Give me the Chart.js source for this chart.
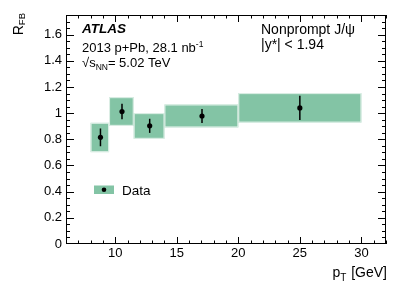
<!DOCTYPE html>
<html>
<head>
<meta charset="utf-8">
<script src="https://cdn.jsdelivr.net/npm/chart.js@4.4.0/dist/chart.umd.min.js"></script>
<style>
  html, body { margin: 0; padding: 0; background: #fff; }
  #rfb { display: block; }
</style>
</head>
<body>
<canvas id="rfb" width="407" height="292"></canvas>
<script>
(function(){
  'use strict';

  // pT bins (GeV) and R_FB values
  const binLow  = [8, 9.5, 11.5, 14, 20];
  const binHigh = [9.5, 11.5, 14, 20, 30];
  const ptCenter = [8.8, 10.55, 12.8, 17.05, 25];
  const rfb      = [0.815, 1.012, 0.903, 0.978, 1.04];
  const statErr  = [0.068, 0.059, 0.054, 0.053, 0.092];
  const systLow  = [0.702, 0.903, 0.804, 0.891, 0.928];
  const systHigh = [0.926, 1.122, 1.000, 1.066, 1.153];

  const xTicks = [10, 15, 20, 25, 30];
  const yTicks = [0, 0.2, 0.4, 0.6, 0.8, 1, 1.2, 1.4, 1.6];

  const FONT = '"Liberation Sans", Arial, Helvetica, sans-serif';
  const BOX = 'rgb(131,196,165)';

  // draws a run of text pieces (for sub/superscripts)
  function drawRuns(ctx, x, y, runs){
    let cx = x;
    runs.forEach(function(r){
      ctx.font = (r.style || '') + ' ' + r.size + 'px ' + FONT;
      ctx.fillText(r.t, cx, y + (r.dy || 0));
      cx += ctx.measureText(r.t).width + (r.gap || 0);
    });
    return cx;
  }
  function runsWidth(ctx, runs){
    let w = 0;
    runs.forEach(function(r){
      ctx.font = (r.style || '') + ' ' + r.size + 'px ' + FONT;
      w += ctx.measureText(r.t).width + (r.gap || 0);
    });
    return w;
  }

  // systematic boxes + stat error bars
  const boxPlugin = {
    id: 'systBoxes',
    beforeDatasetsDraw(chart){
      const ctx = chart.ctx, xs = chart.scales.x, ys = chart.scales.y;
      ctx.save();
      for (let i = 0; i < binLow.length; i++) {
        const x0 = xs.getPixelForValue(binLow[i]), x1 = xs.getPixelForValue(binHigh[i]);
        const y0 = ys.getPixelForValue(systHigh[i]), y1 = ys.getPixelForValue(systLow[i]);
        ctx.fillStyle = BOX;
        ctx.fillRect(x0, y0, x1 - x0, y1 - y0);
        ctx.strokeStyle = 'rgba(255,255,255,0.75)';
        ctx.lineWidth = 1;
        ctx.strokeRect(x0 + 0.5, y0 + 0.5, x1 - x0 - 1, y1 - y0 - 1);
      }
      ctx.strokeStyle = '#000';
      ctx.lineWidth = 1.5;
      for (let i = 0; i < ptCenter.length; i++) {
        const px = xs.getPixelForValue(ptCenter[i]);
        ctx.beginPath();
        ctx.moveTo(px, ys.getPixelForValue(rfb[i] - statErr[i]));
        ctx.lineTo(px, ys.getPixelForValue(rfb[i] + statErr[i]));
        ctx.stroke();
      }
      ctx.restore();
    }
  };

  // ROOT style frame with inward ticks, labels and legend
  const framePlugin = {
    id: 'frame',
    afterDraw(chart){
      const ctx = chart.ctx, a = chart.chartArea;
      const xs = chart.scales.x, ys = chart.scales.y;
      ctx.save();
      ctx.strokeStyle = '#000';
      ctx.lineWidth = 1;
      ctx.strokeRect(a.left + 0.5, a.top + 0.5, a.right - a.left - 1, a.bottom - a.top - 1);

      ctx.beginPath();
      for (let v = 7; v <= 32; v += 1) {
        const px = Math.round(xs.getPixelForValue(v)) + 0.5;
        const len = (v % 5 === 0) ? 7 : 3.5;
        ctx.moveTo(px, a.bottom); ctx.lineTo(px, a.bottom - len);
        ctx.moveTo(px, a.top); ctx.lineTo(px, a.top + len);
      }
      for (let k = 1; k <= 35; k++) {
        const v = k * 0.05;
        const py = Math.round(ys.getPixelForValue(v)) + 0.5;
        const len = (k % 4 === 0) ? 8 : 4;
        ctx.moveTo(a.left, py); ctx.lineTo(a.left + len, py);
        ctx.moveTo(a.right, py); ctx.lineTo(a.right - len, py);
      }
      ctx.stroke();

      ctx.fillStyle = '#000';
      ctx.textBaseline = 'alphabetic';
      ctx.textAlign = 'left';

      // x title
      const xt = [{t: 'p', size: 14}, {t: 'T', size: 10, dy: 4, gap: 1}, {t: ' [GeV]', size: 14}];
      drawRuns(ctx, a.right + 1 - runsWidth(ctx, xt), 277, xt);

      // y title (rotated)
      ctx.save();
      ctx.translate(23, 13);
      ctx.rotate(-Math.PI / 2);
      const yt = [{t: 'R', size: 14}, {t: 'FB', size: 9.5, dy: 2}];
      drawRuns(ctx, -runsWidth(ctx, yt), 0, yt);
      ctx.restore();

      // labels
      drawRuns(ctx, 82, 33, [{t: 'ATLAS', size: 13.5, style: 'italic bold'}]);
      drawRuns(ctx, 82, 52, [{t: '2013 p+Pb, 28.1 nb', size: 13}, {t: '-1', size: 8.5, dy: -5}]);
      drawRuns(ctx, 82, 67, [{t: '\u221A', size: 13}, {t: 's', size: 13}, {t: 'NN', size: 8.5, dy: 3}, {t: '= 5.02 TeV', size: 13}]);
      drawRuns(ctx, 261, 34, [{t: 'Nonprompt J/\u03C8', size: 14}]);
      drawRuns(ctx, 261, 49, [{t: '|y*| < 1.94', size: 14}]);

      // legend
      ctx.fillStyle = BOX;
      ctx.fillRect(94, 185.5, 20, 8.5);
      ctx.fillStyle = '#000';
      ctx.beginPath();
      ctx.arc(104, 189.7, 2.3, 0, Math.PI * 2);
      ctx.fill();
      drawRuns(ctx, 122, 194.5, [{t: 'Data', size: 13.5}]);
      ctx.restore();
    }
  };

  function initChart(){
    try {
      if (typeof Chart === 'undefined') { console.warn('Chart.js not loaded'); return; }
      const el = document.getElementById('rfb');
      const ctx = el.getContext('2d');

      const points = ptCenter.map(function(x, i){ return { x: x, y: rfb[i] }; });

      const chart = new Chart(ctx, {
        type: 'scatter',
        data: {
          datasets: [{
            label: 'Data',
            data: points,
            pointRadius: 2.6,
            pointBackgroundColor: '#000',
            pointBorderColor: '#000',
            pointBorderWidth: 0
          }]
        },
        options: {
          responsive: false,
          animation: false,
          layout: { padding: { left: 0, right: 21, top: 15, bottom: 0 } },
          plugins: { legend: { display: false }, tooltip: { enabled: false } },
          scales: {
            x: {
              type: 'linear', min: 6, max: 32,
              grid: { display: false, drawTicks: false },
              border: { display: false },
              ticks: { color: '#000', padding: 2, font: { family: FONT, size: 13 } },
              afterBuildTicks: function(s){ s.ticks = xTicks.map(function(v){ return { value: v }; }); },
              afterFit: function(s){ s.height = 48; }
            },
            y: {
              type: 'linear', min: 0, max: 1.75,
              grid: { display: false, drawTicks: false },
              border: { display: false },
              ticks: {
                color: '#000', padding: 4, font: { family: FONT, size: 13 },
                callback: function(v){ return String(Math.round(v * 10) / 10); }
              },
              afterBuildTicks: function(s){ s.ticks = yTicks.map(function(v){ return { value: v }; }); },
              afterFit: function(s){ s.width = 66; }
            }
          }
        },
        plugins: [boxPlugin, framePlugin]
      });
      el.__chartInstance = chart;
    } catch (err) {
      console.error('Error creating chart:', err);
    }
  }

  if (document.readyState === 'loading') {
    document.addEventListener('DOMContentLoaded', initChart);
  } else {
    initChart();
  }
})();
</script>
</body>
</html>
